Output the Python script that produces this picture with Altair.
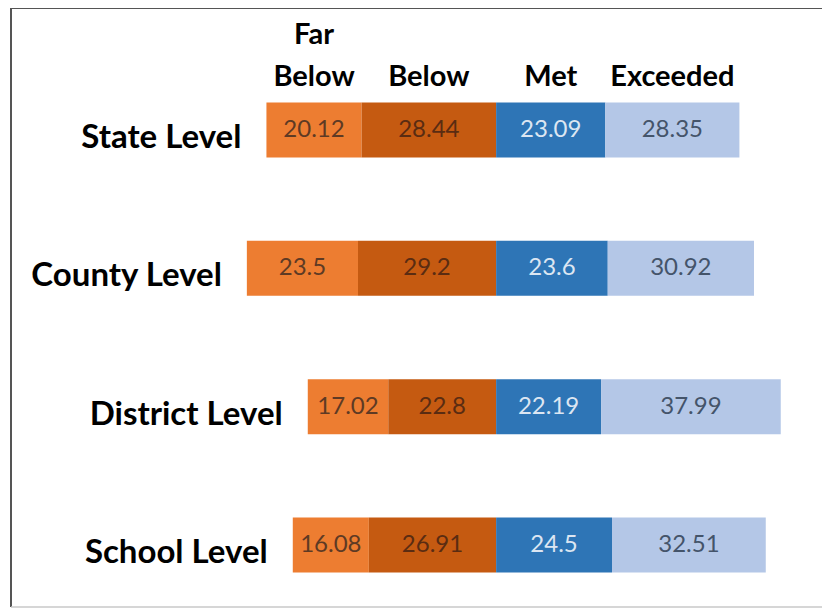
import altair as alt
import pandas as pd

levels = ["State Level", "County Level", "District Level", "School Level"]
categories = ["Far Below", "Below", "Met", "Exceeded"]
far_below = [20.12, 23.5, 17.02, 16.08]
below = [28.44, 29.2, 22.8, 26.91]
met = [23.09, 23.6, 22.19, 24.5]
exceeded = [28.35, 30.92, 37.99, 32.51]

bar_colors = ["#ED7D31", "#C55A11", "#2E75B6", "#B4C7E7"]
text_colors = ["#5e3a24", "#5a2c12", "#dce6f2", "#44546A"]

rows = []
for i, lv in enumerate(levels):
    vals = [far_below[i], below[i], met[i], exceeded[i]]
    start = -(vals[0] + vals[1])
    for c, v in zip(categories, vals):
        rows.append(dict(level=lv, category=c, value=v, x0=start, x1=start + v,
                         mid=start + v / 2, label=f"{v:g}"))
        start += v
df = pd.DataFrame(rows)

W, H = 814, 600
xs = alt.Scale(domain=[-103.2, 68.9], nice=False, zero=False)
ys = alt.Scale(domain=levels, range=[94.5, 564.5], paddingInner=0.602, paddingOuter=0)

base = alt.Chart(df)

bars = base.mark_bar().encode(
    x=alt.X("x0:Q", scale=xs, axis=None),
    x2="x1:Q",
    y=alt.Y("level:N", scale=ys, axis=None),
    color=alt.Color("category:N", scale=alt.Scale(domain=categories, range=bar_colors), legend=None),
)

values = base.mark_text(font="Lato", fontSize=24, baseline="middle", align="center").encode(
    x=alt.X("mid:Q", scale=xs, axis=None),
    y=alt.Y("level:N", scale=ys, axis=None),
    text="label:N",
    color=alt.Color("category:N", scale=alt.Scale(domain=categories, range=text_colors), legend=None),
)

row_labels = base.transform_filter(alt.datum.category == "Far Below").mark_text(
    font="Lato", fontSize=33, fontWeight="bold", align="right", baseline="middle",
    dx=-25, dy=8, color="#000000"
).encode(
    x=alt.X("x0:Q", scale=xs, axis=None),
    y=alt.Y("level:N", scale=ys, axis=None),
    text="level:N",
)

state = base.transform_filter(alt.datum.level == "State Level")

headers_last = state.transform_calculate(
    word="peek(split(datum.category, ' '))"
).mark_text(
    font="Lato", fontSize=29, fontWeight="bold", align="center", baseline="alphabetic",
    dy=-44, color="#000000"
).encode(
    x=alt.X("mid:Q", scale=xs, axis=None),
    y=alt.Y("level:N", scale=ys, axis=None),
    text="word:N",
)

headers_first = state.transform_filter(
    "indexof(datum.category, ' ') > 0"
).transform_calculate(
    word="split(datum.category, ' ')[0]"
).mark_text(
    font="Lato", fontSize=29, fontWeight="bold", align="center", baseline="alphabetic",
    dy=-86, color="#000000"
).encode(
    x=alt.X("mid:Q", scale=xs, axis=None),
    y=alt.Y("level:N", scale=ys, axis=None),
    text="word:N",
)

one = pd.DataFrame({"a": [0]})
dark = "#555555"
left = alt.Chart(one).mark_rule(color=dark, strokeWidth=2).encode(
    x=alt.value(3), y=alt.value(0), y2=alt.value(H - 1))
top = alt.Chart(one).mark_rule(color=dark, strokeWidth=2).encode(
    x=alt.value(3), x2=alt.value(W + 8), y=alt.value(0))
bottom = alt.Chart(one).mark_rule(color="#c8c8c8", strokeWidth=1.5).encode(
    x=alt.value(3), x2=alt.value(W + 8), y=alt.value(H - 1))

chart = alt.layer(bars, values, row_labels, headers_last, headers_first, left, top, bottom).resolve_scale(
    color="independent"
).properties(
    width=W, height=H, padding=0, autosize=alt.AutoSizeParams(type="none"), background="white"
).configure_view(stroke=None)

chart.save("out.html", embed_options={"renderer": "svg", "actions": False})
